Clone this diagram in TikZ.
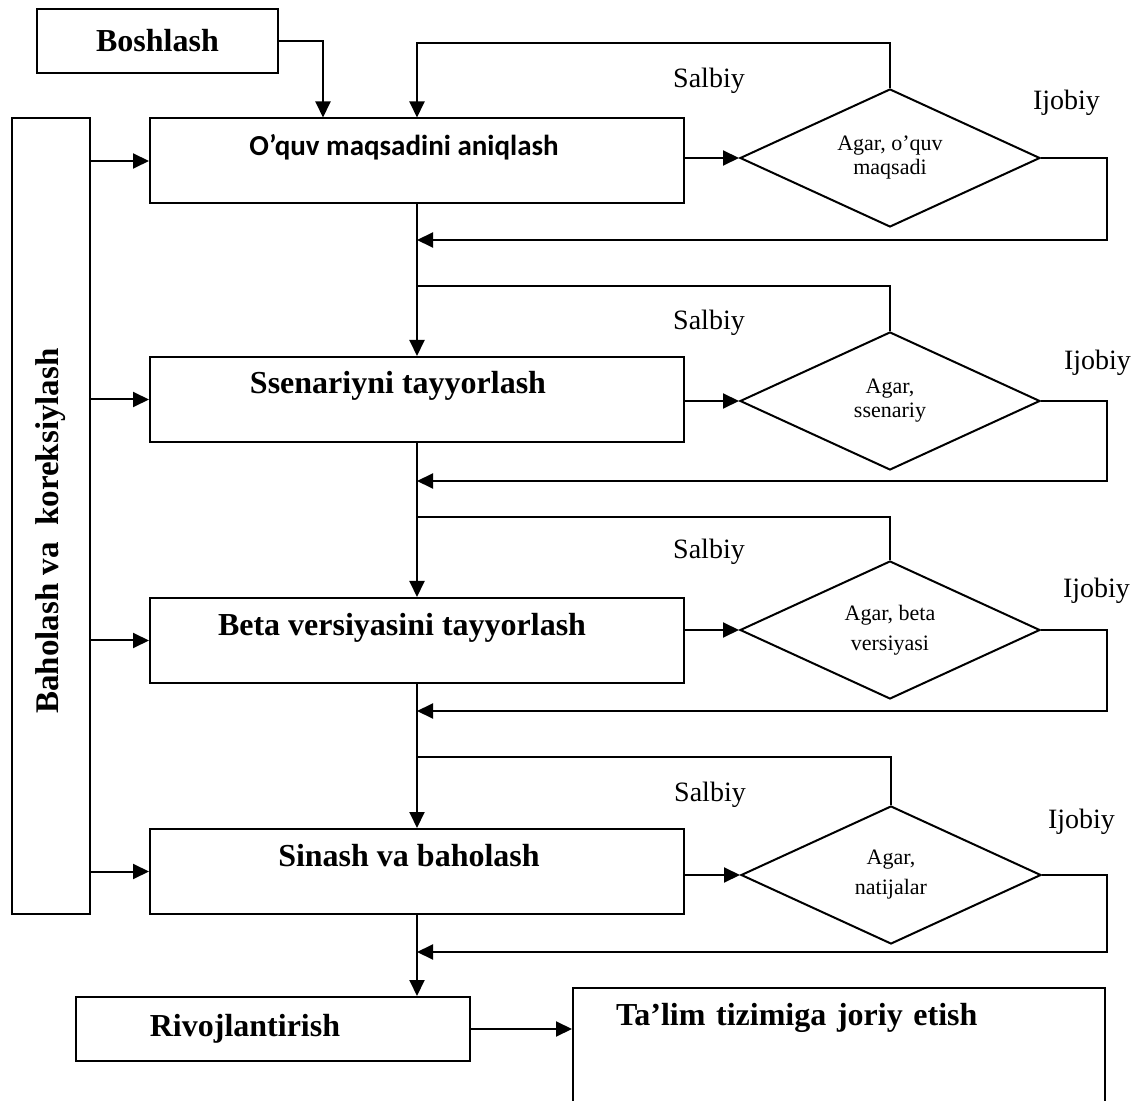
\documentclass[tikz,border=0pt]{standalone}
\usepackage{fontspec}
\setmainfont{Liberation Serif}
\newfontfamily\calibri{Carlito}
\usetikzlibrary{arrows.meta,positioning,shapes.geometric}

\begin{document}
\begin{tikzpicture}[x=0.5pt, y=-0.5pt, line width=1pt,
  box/.style={draw, minimum width=267pt, minimum height=42.5pt, inner sep=0pt,
    font=\fontsize{16}{19}\selectfont\bfseries, text height=11pt, text depth=16.5pt},
  plain/.style={draw, inner sep=0pt, font=\fontsize{16}{19}\selectfont\bfseries},
  cond/.style={draw, diamond, aspect=2.2, minimum width=150pt, minimum height=69pt,
    inner sep=0pt, align=center, font=\fontsize{11}{12}\selectfont},
  lbl/.style={font=\fontsize{14}{16}\selectfont, inner sep=0pt},
  arr/.style={-{Triangle[length=8pt,width=7.5pt]}}]
  \useasboundingbox (0,0) rectangle (1136,1101);
  \clip (0,0) rectangle (1136,1101);
  % boxes
  \node[plain, minimum width=120.5pt, minimum height=32pt] (start) at (157.5,41) {Boshlash};
  \node[plain, minimum width=39pt, minimum height=398pt] (side) at (51,516)
    {\rotatebox{90}{\fontsize{16.5}{19}\selectfont Baholash va~~koreksiylash\hspace*{15pt}}};
  \node[box, font=\calibri\fontsize{14.5}{17}\selectfont\bfseries] (b1) at (417,161) {O’quv maqsadini aniqlash\hspace*{13pt}};
  \node[box] (b2) at (417,399.5) {Ssenariyni tayyorlash\hspace*{19pt}};
  \node[box] (b3) at (417,640.5) {Beta versiyasini tayyorlash\hspace*{15pt}};
  \node[box] (b4) at (417,871.5) {Sinash va baholash\hspace*{8pt}};
  \node[plain, minimum width=197pt, minimum height=32pt] (dev) at (273,1029) {Rivojlantirish\hspace*{28pt}};
  \node[plain, align=left, text width=223pt, inner xsep=21.5pt, minimum height=66pt,
    text height=11pt, text depth=39.5pt] (impl) at (839,1054) {Ta’lim tizimiga joriy etish};
  % conditions
  \node[cond] (d1) at (890,158) {Agar, o’quv\\maqsadi};
  \node[cond] (d2) at (890,401) {Agar,\\ssenariy};
  \node[cond] (d3) at (890,630) {Agar, beta\\[3pt]versiyasi};
  \node[cond] (d4) at (891,875) {Agar,\\[3pt]natijalar};
  % labels
  \node[lbl, anchor=base] (sal1) at (709,88) {Salbiy};
  \node[lbl, anchor=base] (sal2) at (709,330) {Salbiy};
  \node[lbl, anchor=base] (sal3) at (709,559) {Salbiy};
  \node[lbl, anchor=base] (sal4) at (710,801) {Salbiy};
  \node[lbl, anchor=base west] (ijo1) at (1032,110) {Ijobiy};
  \node[lbl, anchor=base west] (ijo2) at (1063,370) {Ijobiy};
  \node[lbl, anchor=base west] (ijo3) at (1062,598) {Ijobiy};
  \node[lbl, anchor=base west] (ijo4) at (1047,828) {Ijobiy};
  % junctions on the main line
  \coordinate (neg1) at (417,43);  \coordinate (pos1) at (417,240);
  \coordinate (neg2) at (417,286); \coordinate (pos2) at (417,481);
  \coordinate (neg3) at (417,517); \coordinate (pos3) at (417,711);
  \coordinate (neg4) at (417,757); \coordinate (pos4) at (417,952);
  % connectors
  \draw[arr] (start.east) -| ([xshift=-47pt]b1.north);
  \draw[arr] (side.east |- b1.west) -- (b1.west); \draw[arr] (side.east |- b2.west) -- (b2.west);
  \draw[arr] (side.east |- b3.west) -- (b3.west); \draw[arr] (side.east |- b4.west) -- (b4.west);
  \draw[arr] (b1.east |- d1.west) -- (d1.west); \draw[arr] (b2.east |- d2.west) -- (d2.west);
  \draw[arr] (b3.east |- d3.west) -- (d3.west); \draw[arr] (b4.east |- d4.west) -- (d4.west);
  \draw[arr] (d1.north) |- (neg1) -- (b1.north);
  \draw (d2.north) |- (neg2); \draw (d3.north) |- (neg3); \draw (d4.north) |- (neg4);
  \draw[arr] (d1.east) -- ++(66,0) |- (pos1); \draw[arr] (d2.east) -- ++(66,0) |- (pos2);
  \draw[arr] (d3.east) -- ++(66,0) |- (pos3); \draw[arr] (d4.east) -- ++(65,0) |- (pos4);
  \draw[arr] (b1.south) -- (b2.north); \draw[arr] (b2.south) -- (b3.north);
  \draw[arr] (b3.south) -- (b4.north); \draw[arr] (b4.south) -- (b4.south |- dev.north);
  \draw[arr] (dev.east) -- (dev.east -| impl.west);
\end{tikzpicture}
\end{document}
